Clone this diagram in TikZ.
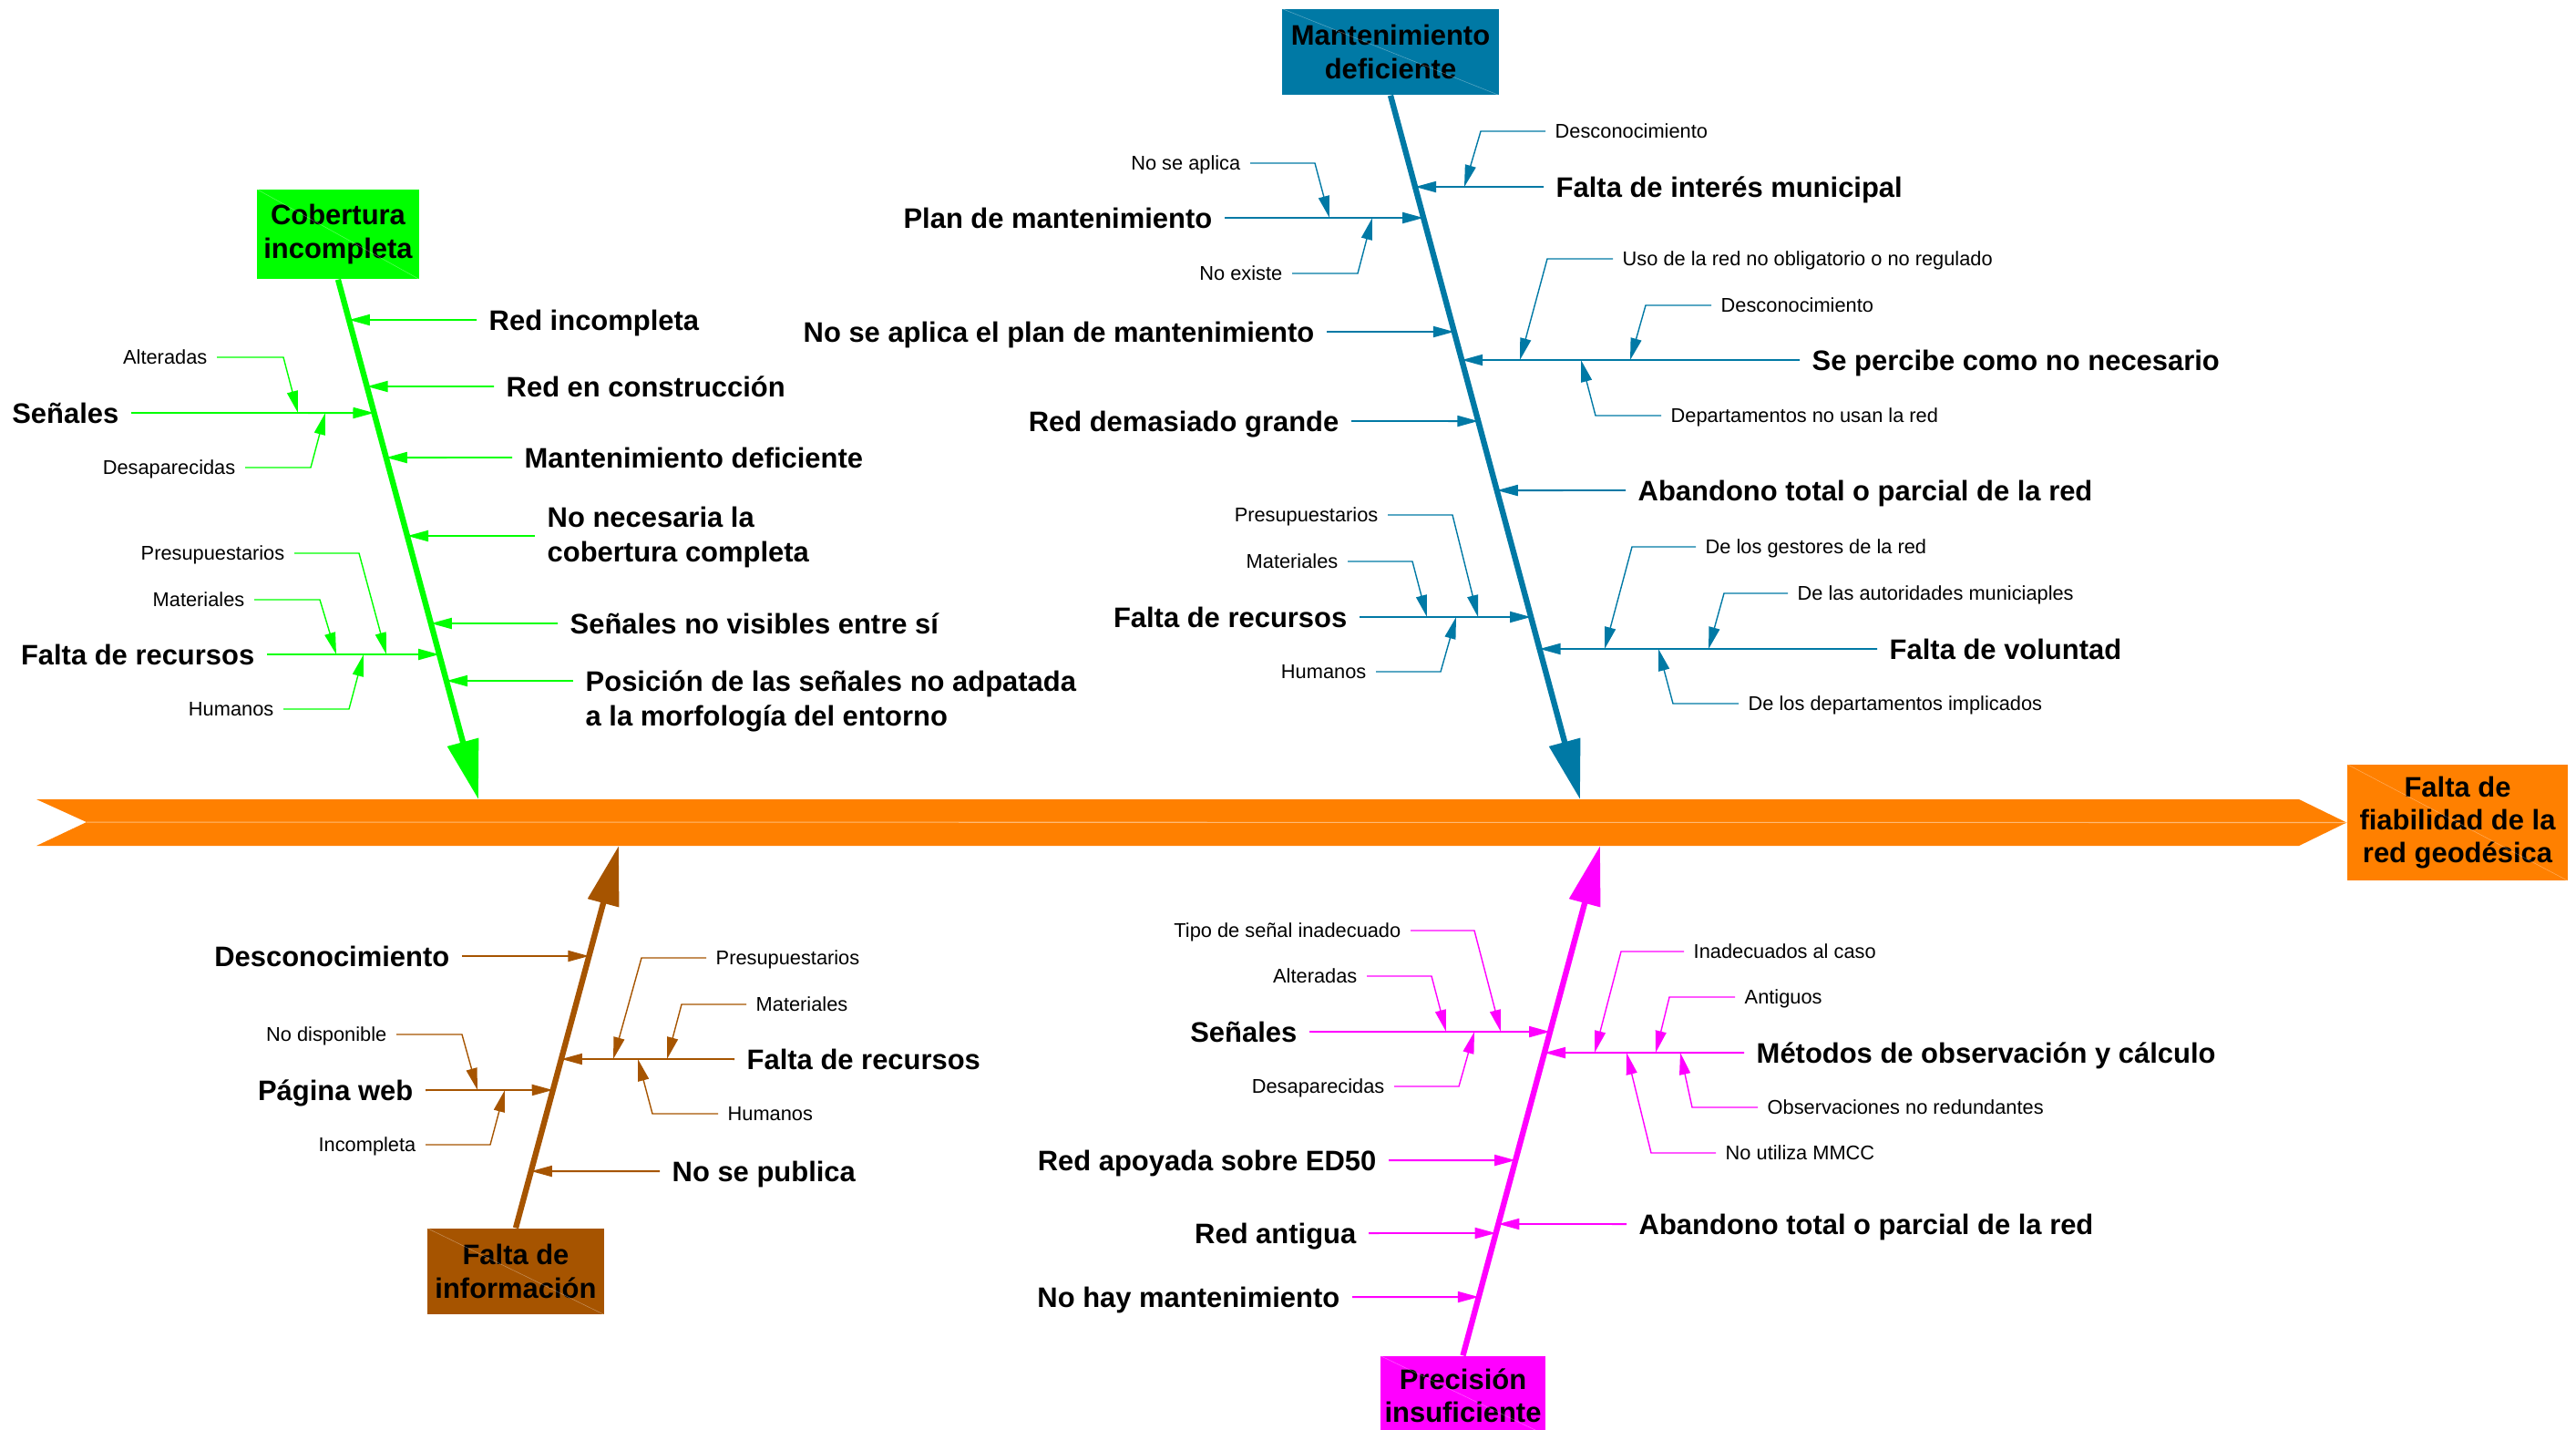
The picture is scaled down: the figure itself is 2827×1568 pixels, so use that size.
\documentclass[tikz,border=0pt]{standalone}
\usepackage{fontspec}
\setmainfont{Liberation Sans}
\usetikzlibrary{arrows.meta, calc}
\definecolor{VerdeLima}{RGB}{0,255,0}
\definecolor{AzulPetroleo}{RGB}{0,121,165}
\definecolor{MarronTeja}{RGB}{166,84,0}
\definecolor{MagentaVivo}{RGB}{255,0,255}
\definecolor{NaranjaEje}{RGB}{255,128,0}

\begin{document}
\begin{tikzpicture}[x=0.01cm, y=-0.01cm,
    caja/.style={inner sep=0pt, align=center, font=\fontsize{8.8}{10.3}\selectfont\bfseries},
    causa/.style={inner xsep=1.3mm, inner ysep=0pt, text height=6.5pt, text depth=0.2pt, font=\fontsize{8.8}{10.6}\selectfont\bfseries},
    causados/.style={inner xsep=1.3mm, inner ysep=0pt, font=\fontsize{8.8}{10.6}\selectfont\bfseries},
    subcausa/.style={inner xsep=1mm, inner ysep=0pt, text height=4.5pt, text depth=0pt, font=\fontsize{6.2}{7.4}\selectfont},
    espina/.style={line width=1.8pt, -{Triangle[length=6.5mm,width=3.4mm]}},
    rama/.style={line width=0.55pt, -{Triangle[length=2.3mm,width=1.2mm]}},
    ramita/.style={line width=0.4pt, -{Triangle[length=2.4mm,width=1.2mm]}},
    diag/.style={line width=0.15pt, white, opacity=0.35}]
    \useasboundingbox (0,0) rectangle (2827,1568);

    % Efecto y eje central
    \node[caja, fill=NaranjaEje, minimum width=2.42cm, minimum height=1.27cm] (efecto) at (2697,902.5) {Falta de\\fiabilidad de la\\red geod\'esica};
    \draw[diag] (efecto.north west) -- (efecto.south east);
    \fill[NaranjaEje] (40,877) -- (2523,877) -- (efecto.west) -- (2523,928) -- (40,928) -- (95,902) -- cycle;
    \draw[NaranjaEje!55!white, line width=0.3pt] (95,902) -- (efecto.west);

    % Cobertura incompleta
    \node[caja, fill=VerdeLima, minimum width=1.78cm, minimum height=0.98cm] (gcaja) at (371,257) {Cobertura\\incompleta};
    \draw[diag] (gcaja.north west) -- (gcaja.south east);
    \coordinate (gcab) at (525,877);
    \draw[espina, VerdeLima] (gcaja.south) -- (gcab);
    \node[causa, anchor=west] (g1) at (523,351) {Red incompleta};
    \node[causa, anchor=west] (g2) at (542,424) {Red en construcci\'on};
    \node[causa, anchor=west] (g3) at (562,502) {Mantenimiento deficiente};
    \coordinate (g4o) at (587,588);
    \node[causados, anchor=base west] (g4) at ([yshift=2.6pt]g4o) {\begin{tabular}[t]{@{}l@{}}No necesaria la\\cobertura completa\end{tabular}};
    \coordinate (g4t) at (447,588);
    \node[causa, anchor=west] (g7) at (612,684) {Se\~nales no visibles entre s\'i};
    \coordinate (g8o) at (629,747);
    \node[causados, anchor=base west] (g8) at ([yshift=-3.4pt]g8o) {\begin{tabular}[t]{@{}l@{}}Posici\'on de las se\~nales no adpatada\\a la morfolog\'ia del entorno\end{tabular}};
    \coordinate (g8t) at (490,747);
    \foreach \n in {g1,g2,g3,g7}
        \draw[rama, VerdeLima] (\n.west) -- (intersection of gcaja.south--gcab and \n.west--\n.east);
    \draw[rama, VerdeLima] (g4o) -- (g4t);
    \draw[rama, VerdeLima] (g8o) -- (g8t);
    \node[causa, anchor=east] (g5) at (144,453) {Se\~nales};
    \node[subcausa, anchor=east] (g5a) at (238,392) {Alteradas};
    \node[subcausa, anchor=east] (g5b) at (269,513) {Desaparecidas};
    \node[causa, anchor=east] (g6) at (293,718) {Falta de recursos};
    \node[subcausa, anchor=east] (g6a) at (323,607) {Presupuestarios};
    \node[subcausa, anchor=east] (g6b) at (279,658) {Materiales};
    \node[subcausa, anchor=east] (g6c) at (311,778) {Humanos};
    \foreach \n in {g5,g6}
        \draw[rama, VerdeLima] (\n.east) -- (intersection of gcaja.south--gcab and \n.west--\n.east);
    \draw[ramita, VerdeLima] (g5a.east) -- ++(73,0) -- (g5.east -| 327,0);
    \draw[ramita, VerdeLima] (g5b.east) -- ++(72,0) -- (g5.east -| 357,0);
    \draw[ramita, VerdeLima] (g6a.east) -- ++(71,0) -- (g6.east -| 424,0);
    \draw[ramita, VerdeLima] (g6b.east) -- ++(72,0) -- (g6.east -| 369,0);
    \draw[ramita, VerdeLima] (g6c.east) -- ++(72,0) -- (g6.east -| 399,0);

    % Mantenimiento deficiente
    \node[caja, fill=AzulPetroleo, minimum width=2.38cm, minimum height=0.94cm] (bcaja) at (1526,57) {Mantenimiento\\deficiente};
    \draw[diag] (bcaja.north west) -- (bcaja.south east);
    \coordinate (bcab) at (1734,877);
    \draw[espina, AzulPetroleo] (bcaja.south) -- (bcab);
    \node[causa, anchor=east] (b1) at (1344,239) {Plan de mantenimiento};
    \node[subcausa, anchor=east] (b1a) at (1372,179) {No se aplica};
    \node[subcausa, anchor=east] (b1b) at (1418,300) {No existe};
    \node[causa, anchor=east] (b2) at (1456,364) {No se aplica el plan de mantenimiento};
    \node[causa, anchor=east] (b3) at (1483,462) {Red demasiado grande};
    \node[causa, anchor=east] (b4) at (1492,677) {Falta de recursos};
    \node[subcausa, anchor=east] (b4a) at (1523,565) {Presupuestarios};
    \node[subcausa, anchor=east] (b4b) at (1479,616) {Materiales};
    \node[subcausa, anchor=east] (b4c) at (1510,737) {Humanos};
    \foreach \n in {b1,b2,b3,b4}
        \draw[rama, AzulPetroleo] (\n.east) -- (intersection of bcaja.south--bcab and \n.west--\n.east);
    \draw[ramita, AzulPetroleo] (b1a.east) -- ++(71,0) -- (b1.east -| 1459,0);
    \draw[ramita, AzulPetroleo] (b1b.east) -- ++(72,0) -- (b1.east -| 1506,0);
    \draw[ramita, AzulPetroleo] (b4a.east) -- ++(71,0) -- (b4.east -| 1622,0);
    \draw[ramita, AzulPetroleo] (b4b.east) -- ++(71,0) -- (b4.east -| 1566,0);
    \draw[ramita, AzulPetroleo] (b4c.east) -- ++(71,0) -- (b4.east -| 1598,0);
    \node[causa, anchor=west] (b5) at (1694,205) {Falta de inter\'es municipal};
    \node[subcausa, anchor=west] (b5a) at (1696,144) {Desconocimiento};
    \node[causa, anchor=west] (b6) at (1975,395) {Se percibe como no necesario};
    \node[subcausa, anchor=west] (b6a) at (1770,284) {Uso de la red no obligatorio o no regulado};
    \node[subcausa, anchor=west] (b6b) at (1878,335) {Desconocimiento};
    \node[subcausa, anchor=west] (b6c) at (1823,456) {Departamentos no usan la red};
    \node[causa, anchor=west] (b7) at (1784,538) {Abandono total o parcial de la red};
    \node[causa, anchor=west] (b8) at (2060,712) {Falta de voluntad};
    \node[subcausa, anchor=west] (b8a) at (1861,600) {De los gestores de la red};
    \node[subcausa, anchor=west] (b8b) at (1962,651) {De las autoridades municiaples};
    \node[subcausa, anchor=west] (b8c) at (1908,772) {De los departamentos implicados};
    \foreach \n in {b5,b6,b7,b8}
        \draw[rama, AzulPetroleo] (\n.west) -- (intersection of bcaja.south--bcab and \n.west--\n.east);
    \draw[ramita, AzulPetroleo] (b5a.west) -- ++(-71,0) -- (b5.west -| 1607,0);
    \draw[ramita, AzulPetroleo] (b6a.west) -- ++(-72,0) -- (b6.west -| 1668,0);
    \draw[ramita, AzulPetroleo] (b6b.west) -- ++(-72,0) -- (b6.west -| 1789,0);
    \draw[ramita, AzulPetroleo] (b6c.west) -- ++(-72,0) -- (b6.west -| 1735,0);
    \draw[ramita, AzulPetroleo] (b8a.west) -- ++(-70,0) -- (b8.west -| 1761,0);
    \draw[ramita, AzulPetroleo] (b8b.west) -- ++(-70,0) -- (b8.west -| 1875,0);
    \draw[ramita, AzulPetroleo] (b8c.west) -- ++(-72,0) -- (b8.west -| 1820,0);

    % Falta de informacion
    \node[caja, fill=MarronTeja, minimum width=1.94cm, minimum height=0.94cm] (rcaja) at (566,1395) {Falta de\\informaci\'on};
    \draw[diag] (rcaja.north west) -- (rcaja.south east);
    \coordinate (rcab) at (679,928);
    \draw[espina, MarronTeja] (rcaja.north) -- (rcab);
    \node[causa, anchor=east] (r1) at (507,1049) {Desconocimiento};
    \node[causa, anchor=east] (r2) at (467,1196) {P\'agina web};
    \node[subcausa, anchor=east] (r2a) at (435,1135) {No disponible};
    \node[subcausa, anchor=east] (r2b) at (467,1256) {Incompleta};
    \foreach \n in {r1,r2}
        \draw[rama, MarronTeja] (\n.east) -- (intersection of rcaja.north--rcab and \n.west--\n.east);
    \draw[ramita, MarronTeja] (r2a.east) -- ++(72,0) -- (r2.east -| 524,0);
    \draw[ramita, MarronTeja] (r2b.east) -- ++(71,0) -- (r2.east -| 554,0);
    \node[causa, anchor=west] (r3) at (806,1162) {Falta de recursos};
    \node[subcausa, anchor=west] (r3a) at (775,1051) {Presupuestarios};
    \node[subcausa, anchor=west] (r3b) at (819,1102) {Materiales};
    \node[subcausa, anchor=west] (r3c) at (788,1222) {Humanos};
    \node[causa, anchor=west] (r4) at (724,1285) {No se publica};
    \foreach \n in {r3,r4}
        \draw[rama, MarronTeja] (\n.west) -- (intersection of rcaja.north--rcab and \n.west--\n.east);
    \draw[ramita, MarronTeja] (r3a.west) -- ++(-71,0) -- (r3.west -| 673,0);
    \draw[ramita, MarronTeja] (r3b.west) -- ++(-71,0) -- (r3.west -| 732,0);
    \draw[ramita, MarronTeja] (r3c.west) -- ++(-72,0) -- (r3.west -| 700,0);

    % Precision insuficiente
    \node[caja, fill=MagentaVivo, minimum width=1.81cm, minimum height=0.86cm] (mcaja) at (1605.5,1531) {Precisi\'on\\insuficiente};
    \draw[diag] (mcaja.north west) -- (mcaja.south east);
    \coordinate (mcab) at (1756,928);
    \draw[espina, MagentaVivo] (mcaja.north) -- (mcab);
    \node[causa, anchor=east] (m1) at (1437,1132) {Se\~nales};
    \node[subcausa, anchor=east] (m1a) at (1548,1021) {Tipo de se\~nal inadecuado};
    \node[subcausa, anchor=east] (m1b) at (1500,1071) {Alteradas};
    \node[subcausa, anchor=east] (m1c) at (1530,1192) {Desaparecidas};
    \node[causa, anchor=east] (m2) at (1524,1273) {Red apoyada sobre ED50};
    \node[causa, anchor=east] (m3) at (1502,1353) {Red antigua};
    \node[causa, anchor=east] (m4) at (1484,1423) {No hay mantenimiento};
    \foreach \n in {m1,m2,m3,m4}
        \draw[rama, MagentaVivo] (\n.east) -- (intersection of mcaja.north--mcab and \n.west--\n.east);
    \draw[ramita, MagentaVivo] (m1a.east) -- ++(70,0) -- (m1.east -| 1647,0);
    \draw[ramita, MagentaVivo] (m1b.east) -- ++(71,0) -- (m1.east -| 1587,0);
    \draw[ramita, MagentaVivo] (m1c.east) -- ++(71,0) -- (m1.east -| 1618,0);
    \node[causa, anchor=west] (m5) at (1914,1155) {M\'etodos de observaci\'on y c\'alculo};
    \node[subcausa, anchor=west] (m5a) at (1848,1044) {Inadecuados al caso};
    \node[subcausa, anchor=west] (m5b) at (1904,1094) {Antiguos};
    \node[subcausa, anchor=west] (m5c) at (1929,1215) {Observaciones no redundantes};
    \node[subcausa, anchor=west] (m5d) at (1883,1265) {No utiliza MMCC};
    \node[causa, anchor=west] (m6) at (1785,1343) {Abandono total o parcial de la red};
    \foreach \n in {m5,m6}
        \draw[rama, MagentaVivo] (\n.west) -- (intersection of mcaja.north--mcab and \n.west--\n.east);
    \draw[ramita, MagentaVivo] (m5a.west) -- ++(-69,0) -- (m5.west -| 1750,0);
    \draw[ramita, MagentaVivo] (m5b.west) -- ++(-72,0) -- (m5.west -| 1817,0);
    \draw[ramita, MagentaVivo] (m5c.west) -- ++(-72,0) -- (m5.west -| 1844,0);
    \draw[ramita, MagentaVivo] (m5d.west) -- ++(-71,0) -- (m5.west -| 1785,0);
\end{tikzpicture}
\end{document}
